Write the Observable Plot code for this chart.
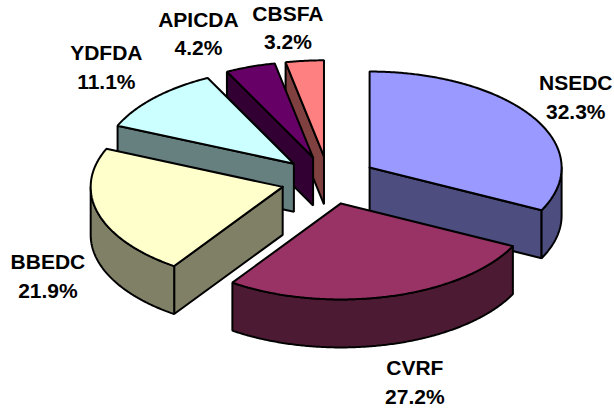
<!DOCTYPE html>
<html>
<head>
<meta charset="utf-8">
<script src="https://cdn.jsdelivr.net/npm/d3@7"></script>
<script src="https://cdn.jsdelivr.net/npm/@observablehq/plot@0.6"></script>
<style>
html,body{margin:0;padding:0;background:#fff}
svg{display:block}
</style>
</head>
<body>
<div id="chart"></div>
<script>
const names = ["NSEDC", "CVRF", "BBEDC", "YDFDA", "APICDA", "CBSFA"];
const shares = [32.3, 27.2, 21.9, 11.1, 4.2, 3.2];
const topColors = ["#9999FF", "#993366", "#FFFFCC", "#CCFFFF", "#660066", "#FF8080"];
const sideColors = ["#4D4D80", "#4D1A33", "#808066", "#668080", "#330033", "#804040"];
const labelNudgeX = [-6, 11, 5, -6, -33, -11];
const labelNudgeY = [1, -6, 1, -3, 6, 8];

// Pie geometry in units of the pie radius
const W = 614, H = 411, pxPerUnit = 192, centerX = 328.3, centerY = 179.7;
const tilt = 0.5, depth = 0.25, explode = 0.25;
const rad = Math.PI / 180;
const total = d3.sum(shares);

let cum = 0;
const slices = names.map((name, i) => {
  const a0 = cum / total * 360;
  cum += shares[i];
  const a1 = cum / total * 360;
  const mid = (a0 + a1) / 2;
  return {
    name, i, a0, a1, mid,
    ox: explode * Math.sin(mid * rad),
    oy: -explode * tilt * Math.cos(mid * rad)
  };
});

const rim = (s, a, drop = 0) => ({
  x: s.ox + Math.sin(a * rad),
  y: s.oy - tilt * Math.cos(a * rad) + drop
});
const apex = (s, drop = 0) => ({x: s.ox, y: s.oy + drop});
const arc = (s, a0, a1, drop = 0) => {
  const n = Math.max(2, Math.ceil(a1 - a0) * 2);
  return d3.range(n + 1).map(k => rim(s, a0 + (a1 - a0) * k / n, drop));
};

const pieces = [];
const add = (s, part, pts, fill) => {
  const closed = [...pts, pts[0]];
  closed.forEach(p => pieces.push({x: p.x, y: p.y, piece: s.name + part, fill}));
};

// Back slices first, so the nearer ones cover them
const order = [5, 4, 3, 2, 0, 1];
for (const idx of order) {
  const s = slices[idx];
  const side = sideColors[idx], top = topColors[idx];
  if (s.a0 > 180 && s.a0 < 360) {
    add(s, "-start", [apex(s), rim(s, s.a0), rim(s, s.a0, depth), apex(s, depth)], side);
  }
  if (s.a1 > 0 && s.a1 < 180) {
    add(s, "-end", [apex(s), rim(s, s.a1), rim(s, s.a1, depth), apex(s, depth)], side);
  }
  const f0 = Math.max(s.a0, 90), f1 = Math.min(s.a1, 270);
  if (f1 > f0) {
    add(s, "-rim", [...arc(s, f0, f1), ...arc(s, f0, f1, depth).reverse()], side);
  }
  add(s, "-top", [apex(s), ...arc(s, s.a0, s.a1)], top);
}

const labels = slices.map(s => {
  const sn = Math.sin(s.mid * rad), cs = Math.cos(s.mid * rad);
  return {
    x: 1.55 * sn + labelNudgeX[s.i] / pxPerUnit,
    y: -0.85 * cs + (cs < 0 ? depth : 0) + labelNudgeY[s.i] / pxPerUnit,
    text: s.name + "\n" + shares[s.i].toFixed(1) + "%"
  };
});

const chart = Plot.plot({
  width: W,
  height: H,
  margin: 0,
  style: {background: "#fff", fontFamily: "'Liberation Sans', Arial, sans-serif"},
  color: {type: "identity"},
  x: {axis: null, domain: [-centerX / pxPerUnit, (W - centerX) / pxPerUnit], range: [0, W]},
  y: {axis: null, domain: [-centerY / pxPerUnit, (H - centerY) / pxPerUnit], range: [0, H]},
  marks: [
    Plot.line(pieces, {
      x: "x", y: "y", z: "piece", fill: "fill",
      stroke: "#000", strokeWidth: 2, strokeLinejoin: "miter", curve: "linear"
    }),
    Plot.text(labels, {
      x: "x", y: "y", text: "text",
      fontSize: 21, fontWeight: "bold", fill: "#000", lineHeight: 1.36, textAnchor: "middle"
    })
  ]
});
document.getElementById("chart").appendChild(chart);
</script>
</body>
</html>
